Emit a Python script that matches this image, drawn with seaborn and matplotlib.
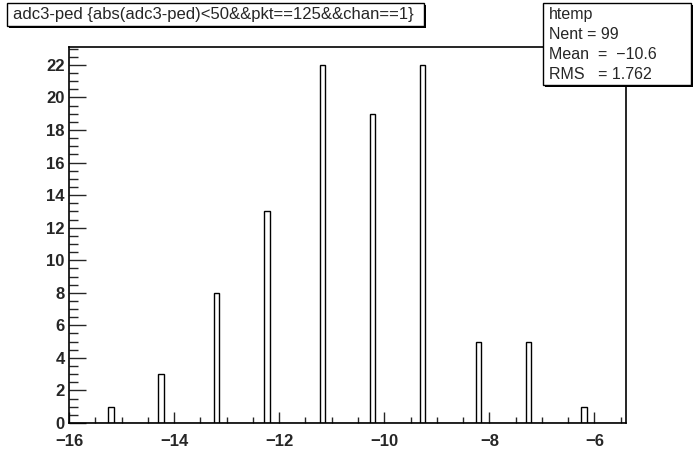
import numpy as np
import pandas as pd
import matplotlib
matplotlib.use("Agg")
import matplotlib.pyplot as plt
from matplotlib.patches import Rectangle
from matplotlib.ticker import MultipleLocator
import seaborn as sns

# histogram content
values = [-15.2, -14.25, -13.2, -12.25, -11.2, -10.2, -9.25, -8.2, -7.25, -6.2]
counts = [1, 3, 8, 13, 22, 19, 22, 5, 5, 1]

title_text = "adc3-ped {abs(adc3-ped)<50&&pkt==125&&chan==1}"
stats_lines = ["htemp", "Nent = 99", "Mean  =  \u221210.6", "RMS   = 1.762"]

x_lo, x_hi, nbins = -16.0, -5.4, 100

df = pd.DataFrame({"v": values, "n": counts})

sns.set_style("ticks")
plt.rcParams['font.family'] = ['Liberation Sans', 'DejaVu Sans']

W, H = 696, 472
fig = plt.figure(figsize=(W / 100, H / 100), dpi=100)
fig.patch.set_facecolor("white")
ax = fig.add_axes([69 / W, (H - 423) / H, (626 - 69) / W, (423 - 47) / H])

sns.histplot(data=df, x="v", weights="n", binwidth=(x_hi - x_lo) / nbins,
             binrange=(x_lo, x_hi), color="white", edgecolor="black",
             alpha=1, linewidth=1.0, ax=ax)

ax.set_xlim(x_lo, x_hi)
ax.set_ylim(0, 23.1)
ax.set_xlabel("")
ax.set_ylabel("")

for s in ax.spines.values():
    s.set_linewidth(1.2)
    s.set_color("black")
    s.set_visible(True)

ax.xaxis.set_major_locator(MultipleLocator(2))
ax.xaxis.set_minor_locator(MultipleLocator(0.5))
ax.yaxis.set_major_locator(MultipleLocator(2))
ax.yaxis.set_minor_locator(MultipleLocator(0.5))
ax.tick_params(axis="x", which="major", direction="in", length=8, width=1, pad=8,
               labelsize=12)
ax.tick_params(axis="x", which="minor", direction="in", length=4.3, width=1)
ax.tick_params(axis="y", which="major", direction="in", length=12, width=1, pad=3,
               labelsize=12)
ax.tick_params(axis="y", which="minor", direction="in", length=6.5, width=1)
ax.tick_params(top=False, right=False, which="both")
for lab in ax.get_xticklabels() + ax.get_yticklabels():
    lab.set_fontweight("bold")


def box(x0, y0, x1, y1):
    # box in pixel coords (top-left origin) with a ROOT style shadow
    fx = lambda v: v / W
    fy = lambda v: 1 - v / H
    fig.patches.append(Rectangle((fx(x0 + 2), fy(y1 + 2)), fx(x1 - x0), (y1 - y0) / H,
                                 transform=fig.transFigure, facecolor="black",
                                 edgecolor="black", lw=0, zorder=5))
    fig.patches.append(Rectangle((fx(x0), fy(y1)), fx(x1 - x0), (y1 - y0) / H,
                                 transform=fig.transFigure, facecolor="white",
                                 edgecolor="black", lw=1.0, zorder=6))


box(7, 3, 424, 26)
fig.text(13 / W, 1 - 15 / H, title_text, fontsize=12, va="center", ha="left", zorder=7)

box(543, 3, 691, 85)
for i, line in enumerate(stats_lines):
    fig.text(549 / W, 1 - (14 + 20.3 * i) / H, line, fontsize=11.5, va="center",
             ha="left", zorder=7)

fig.savefig("out.png", dpi=100)
